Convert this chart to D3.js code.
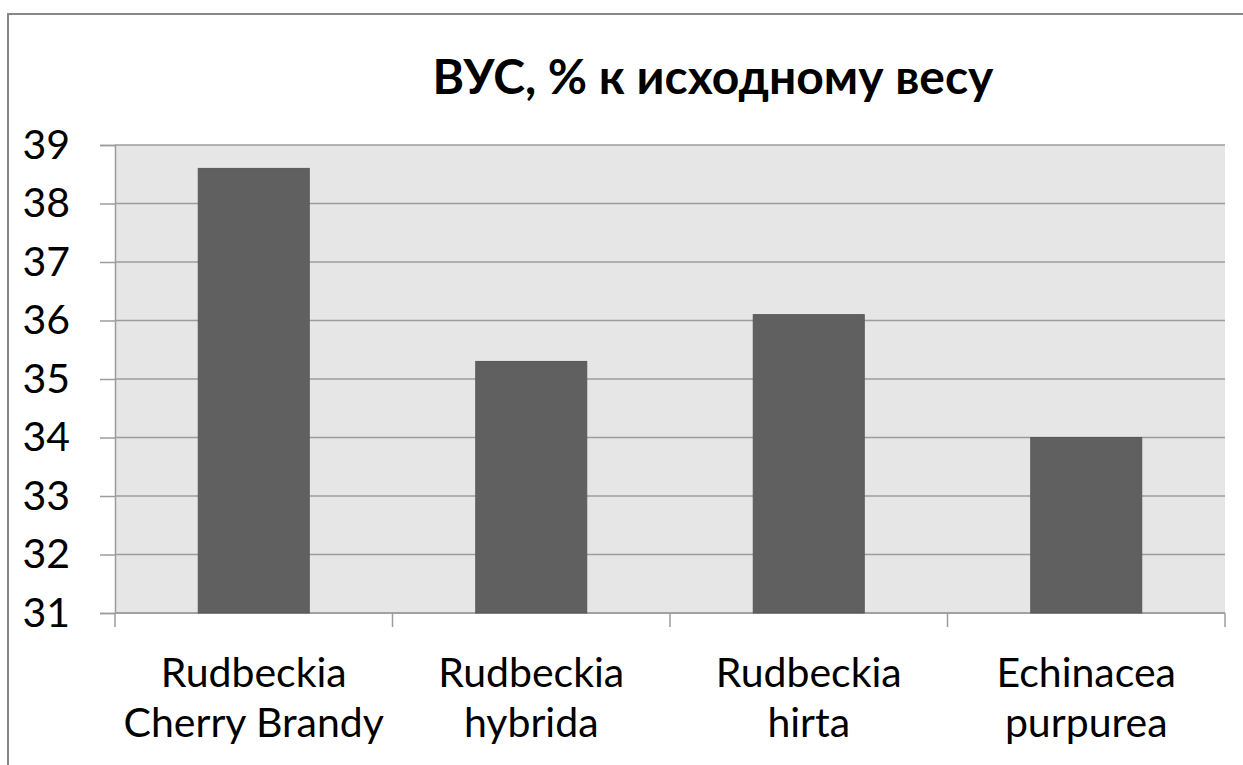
<!DOCTYPE html>
<html>
<head>
<meta charset="utf-8">
<script src="https://cdn.jsdelivr.net/npm/d3@7"></script>
<style>
  body { margin: 0; background: #fff; }
  text { font-family: Lato, "Open Sans", sans-serif; fill: #000; }
</style>
</head>
<body>
<div id="chart"></div>
<script>
// data
var categories = [["Rudbeckia", "Cherry Brandy"], ["Rudbeckia", "hybrida"], ["Rudbeckia", "hirta"], ["Echinacea", "purpurea"]];
var values = [38.6, 35.3, 36.1, 34.0];
var yTicks = [31, 32, 33, 34, 35, 36, 37, 38, 39];
var title = "ВУС, % к исходному весу";

var W = 1243, H = 765;
var plot = { left: 115, top: 145, right: 1225, bottom: 613 };

var svg = d3.select("#chart").append("svg")
    .attr("width", W)
    .attr("height", H);

// outer chart frame
svg.append("rect")
    .attr("x", 8).attr("y", 14)
    .attr("width", W + 10).attr("height", H + 10)
    .attr("fill", "#fff")
    .attr("stroke", "#878787")
    .attr("stroke-width", 2);

var x = d3.scaleBand()
    .domain(d3.range(categories.length))
    .range([plot.left, plot.right])
    .paddingInner(0.6)
    .paddingOuter(0.3);

var y = d3.scaleLinear()
    .domain([31, 39])
    .range([plot.bottom, plot.top]);

// plot background
svg.append("rect")
    .attr("x", plot.left).attr("y", plot.top)
    .attr("width", plot.right - plot.left)
    .attr("height", plot.bottom - plot.top)
    .attr("fill", "#e6e6e6");

// grid lines
svg.append("g")
    .selectAll("line")
    .data(yTicks)
    .enter().append("line")
    .attr("x1", plot.left).attr("x2", plot.right)
    .attr("y1", function(d) { return y(d); })
    .attr("y2", function(d) { return y(d); })
    .attr("stroke", "#9c9c9c")
    .attr("stroke-width", 1.5);

// y axis
var yAxis = d3.axisLeft(y)
    .tickValues(yTicks)
    .tickSize(15)
    .tickPadding(30);

var gY = svg.append("g")
    .attr("transform", "translate(" + plot.left + ",0)")
    .call(yAxis);
gY.select(".domain").attr("stroke", "#9c9c9c").attr("stroke-width", 1.5);
gY.selectAll(".tick line").attr("stroke", "#9c9c9c").attr("stroke-width", 1.5);
gY.selectAll(".tick text")
    .attr("font-size", 41)
    .attr("font-family", "Lato, sans-serif")
    .attr("fill", "#000");

// x axis (ticks between categories)
var bandStep = (plot.right - plot.left) / categories.length;
var xTickPos = d3.range(categories.length + 1).map(function(i) { return plot.left + i * bandStep; });

svg.append("line")
    .attr("x1", plot.left).attr("x2", plot.right)
    .attr("y1", plot.bottom).attr("y2", plot.bottom)
    .attr("stroke", "#9c9c9c").attr("stroke-width", 1.5);

svg.append("g")
    .selectAll("line")
    .data(xTickPos)
    .enter().append("line")
    .attr("x1", function(d) { return d; })
    .attr("x2", function(d) { return d; })
    .attr("y1", plot.bottom).attr("y2", plot.bottom + 14)
    .attr("stroke", "#9c9c9c").attr("stroke-width", 1.5);

// bars
svg.append("g")
    .selectAll("rect")
    .data(values)
    .enter().append("rect")
    .attr("x", function(d, i) { return x(i); })
    .attr("width", x.bandwidth())
    .attr("y", function(d) { return y(d); })
    .attr("height", function(d) { return y(31) - y(d); })
    .attr("fill", "#606060")
    .attr("stroke", "#585858")
    .attr("stroke-width", 1);

// category labels
var labels = svg.append("g")
    .selectAll("text")
    .data(categories)
    .enter().append("text")
    .attr("text-anchor", "middle")
    .attr("font-size", 41)
    .attr("x", function(d, i) { return x(i) + x.bandwidth() / 2; });

labels.append("tspan")
    .attr("x", function(d, i) { return x(i) + x.bandwidth() / 2; })
    .attr("y", 687)
    .text(function(d) { return d[0]; });
labels.append("tspan")
    .attr("x", function(d, i) { return x(i) + x.bandwidth() / 2; })
    .attr("y", 737)
    .text(function(d) { return d[1]; });

// title
svg.append("text")
    .attr("x", 713)
    .attr("y", 94)
    .attr("text-anchor", "middle")
    .attr("font-size", 48)
    .attr("font-weight", "bold")
    .text(title);
</script>
</body>
</html>
